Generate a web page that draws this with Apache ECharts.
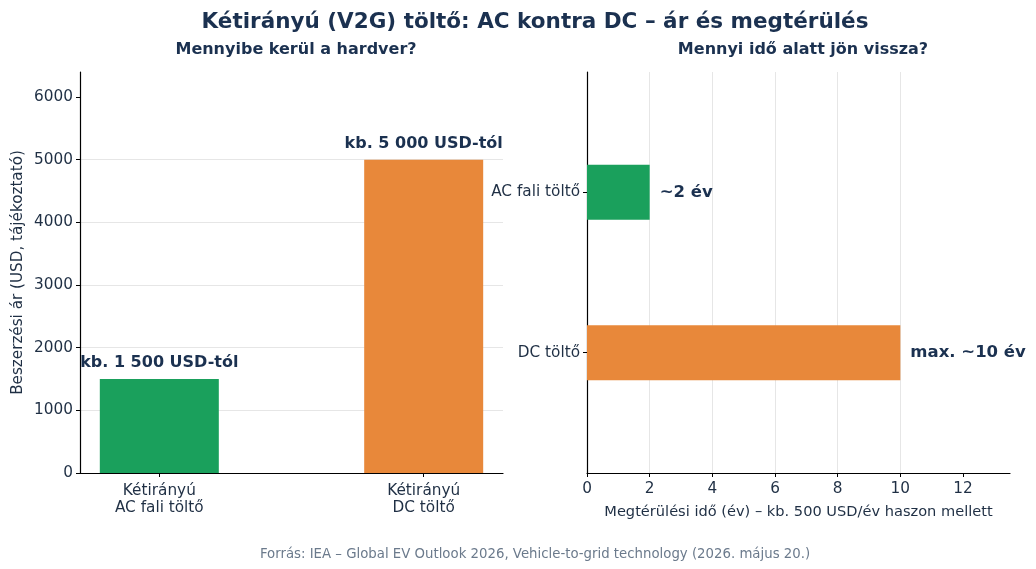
<!DOCTYPE html>
<html>
<head>
<meta charset="utf-8">
<script src="https://cdn.jsdelivr.net/npm/echarts@6/dist/echarts.min.js"></script>
<style>
  html, body { margin: 0; padding: 0; background: #fff; }
  #chart { width: 1036px; height: 569px; }
</style>
</head>
<body>
<div id="chart"></div>
<script>
// data
const priceCategories = ['Kétirányú\nAC fali töltő', 'Kétirányú\nDC töltő'];
const priceValues = [1500, 5000];
const priceLabels = ['kb. 1 500 USD-tól', 'kb. 5 000 USD-tól'];
const priceTicks = [0, 1000, 2000, 3000, 4000, 5000, 6000];

const paybackCategories = ['AC fali töltő', 'DC töltő'];
const paybackValues = [2, 10];
const paybackLabels = ['~2 év', 'max. ~10 év'];
const paybackTicks = [0, 2, 4, 6, 8, 10, 12];

const barColors = ['#1aa05c', '#e8883a'];

const navy = '#1b3150';
const tickColor = '#1f2f44';
const font = 'DejaVu Sans';
const tickSize = 15.3;

const chart = echarts.init(document.getElementById('chart'));

// right panel: pad categories so the two bars sit where matplotlib put them
const paddedCats = [''];
const paddedVals = ['-'];
paybackCategories.forEach((c, i) => {
  paddedCats.push(c, '');
  paddedVals.push({
    value: paybackValues[i],
    itemStyle: { color: barColors[i] },
    label: { formatter: paybackLabels[i] }
  }, '-');
});

chart.setOption({
  backgroundColor: '#fff',
  textStyle: { fontFamily: font },
  title: [
    {
      text: 'Kétirányú (V2G) töltő: AC kontra DC – ár és megtérülés',
      left: 530, top: 6, textAlign: 'center',
      textStyle: { fontFamily: font, fontSize: 21.5, fontWeight: 'bold', color: navy }
    },
    {
      text: 'Mennyibe kerül a hardver?',
      left: 291, top: 37, textAlign: 'center',
      textStyle: { fontFamily: font, fontSize: 16, fontWeight: 'bold', color: navy }
    },
    {
      text: 'Mennyi idő alatt jön vissza?',
      left: 798, top: 37, textAlign: 'center',
      textStyle: { fontFamily: font, fontSize: 16, fontWeight: 'bold', color: navy }
    },
    {
      text: 'Forrás: IEA – Global EV Outlook 2026, Vehicle-to-grid technology (2026. május 20.)',
      left: 530, top: 543, textAlign: 'center',
      textStyle: { fontFamily: font, fontSize: 13.3, fontWeight: 'normal', color: '#6b7a8c' }
    }
  ],
  grid: [
    { left: 80, top: 72, width: 423, height: 401 },
    { left: 587, top: 72, width: 423, height: 401 }
  ],
  xAxis: [
    {
      gridIndex: 0, type: 'value', min: -0.3, max: 1.3,
      axisLine: { show: true, onZero: false, lineStyle: { color: '#000', width: 1.2 } },
      axisTick: { show: true, customValues: [0, 1], length: 4, lineStyle: { color: '#000' } },
      axisLabel: {
        customValues: [0, 1], margin: 10, color: tickColor, fontSize: tickSize, lineHeight: 17,
        formatter: v => priceCategories[Math.round(v)]
      },
      splitLine: { show: false }
    },
    {
      gridIndex: 1, type: 'value', min: 0, max: 13.5, interval: 2,
      name: 'Megtérülési idő (év) – kb. 500 USD/év haszon mellett',
      nameLocation: 'middle', nameGap: 32,
      nameTextStyle: { color: tickColor, fontSize: 14.6 },
      axisLine: { show: true, onZero: false, lineStyle: { color: '#000', width: 1.2 } },
      axisTick: { show: true, customValues: paybackTicks, length: 4, lineStyle: { color: '#000' } },
      axisLabel: { customValues: paybackTicks, margin: 9, color: tickColor, fontSize: tickSize },
      splitLine: { show: true, showMinLine: false, showMaxLine: false, lineStyle: { color: '#e6e6e6' } }
    }
  ],
  yAxis: [
    {
      gridIndex: 0, type: 'value', min: 0, max: 6400, interval: 1000,
      name: 'Beszerzési ár (USD, tájékoztató)',
      nameLocation: 'middle', nameGap: 54,
      nameTextStyle: { color: tickColor, fontSize: 15.2 },
      axisLine: { show: true, onZero: false, lineStyle: { color: '#000', width: 1.2 } },
      axisTick: { show: true, customValues: priceTicks, length: 4, lineStyle: { color: '#000' } },
      axisLabel: {
        customValues: priceTicks, margin: 7, color: tickColor, fontSize: tickSize,
        formatter: v => String(v)
      },
      splitLine: { show: true, showMinLine: false, showMaxLine: false, lineStyle: { color: '#e6e6e6' } }
    },
    {
      gridIndex: 1, type: 'category', inverse: true, data: paddedCats,
      axisLine: { show: true, onZero: false, lineStyle: { color: '#000', width: 1.2 } },
      axisTick: {
        show: true, alignWithLabel: true, length: 4, lineStyle: { color: '#000' },
        interval: (i, v) => v !== ''
      },
      axisLabel: { interval: 0, margin: 7, color: tickColor, fontSize: tickSize },
      splitLine: { show: false }
    }
  ],
  series: [
    {
      type: 'bar', xAxisIndex: 0, yAxisIndex: 0, barWidth: 119,
      data: priceValues.map((v, i) => ({
        value: [i, v],
        itemStyle: { color: barColors[i] },
        label: { formatter: priceLabels[i] }
      })),
      label: {
        show: true, position: 'top', distance: 8,
        fontSize: 16, fontWeight: 'bold', color: navy
      }
    },
    {
      type: 'bar', xAxisIndex: 1, yAxisIndex: 1, barWidth: 55,
      data: paddedVals,
      label: {
        show: true, position: 'right', distance: 10,
        fontSize: 16.5, fontWeight: 'bold', color: navy
      }
    }
  ]
});
</script>
</body>
</html>
